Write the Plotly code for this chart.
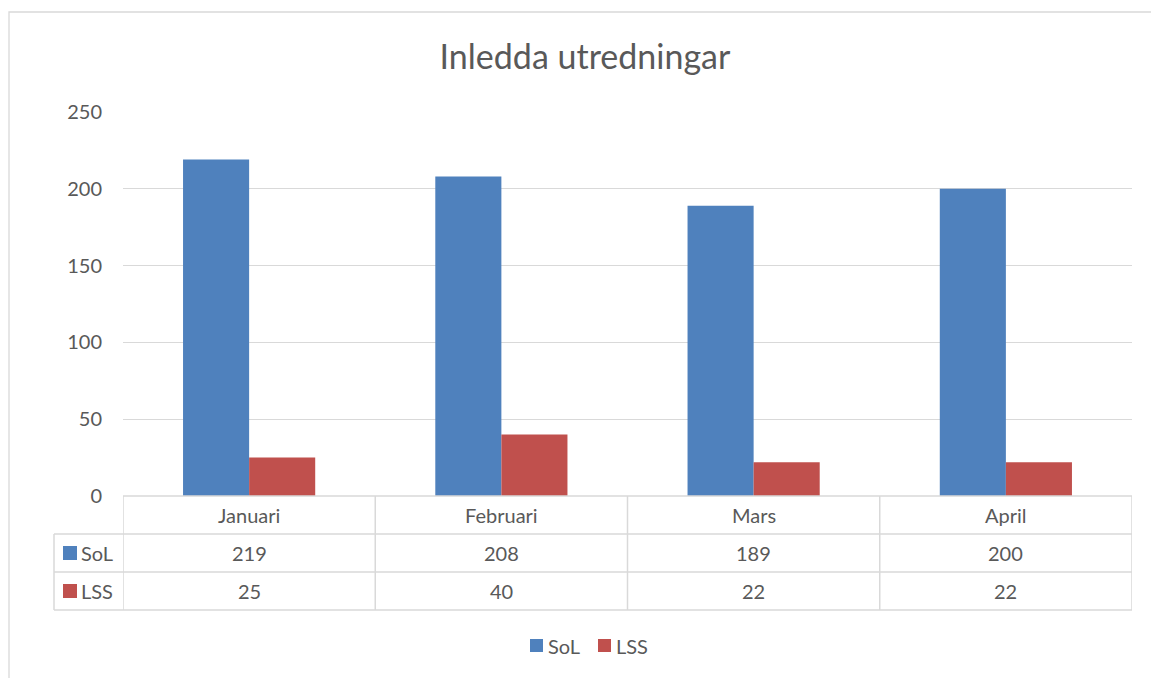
import plotly.graph_objects as go

categories = ["Januari", "Februari", "Mars", "April"]
sol = [219, 208, 189, 200]
lss = [25, 40, 22, 22]
series_names = ["SoL", "LSS"]
colors = ["#4F81BD", "#C0504D"]
title = "Inledda utredningar"

W, H = 1151, 678
L, R, T, B = 123, 1132, 112, 496
pw, ph = R - L, B - T

def px_x(px):
    return (px - L) / pw

def px_y(py):
    return (B - py) / ph

FONT = "Lato, 'Open Sans', sans-serif"
TXT = "#595959"
GRID = "#D9D9D9"
TS = 20

fig = go.Figure()
for name, vals, col in zip(series_names, [sol, lss], colors):
    fig.add_trace(go.Bar(x=categories, y=vals, name=name, showlegend=False,
                         marker=dict(color=col, line=dict(width=0))))

shapes = []
annotations = []
# outer chart border
shapes.append(dict(type="rect", xref="paper", yref="paper", x0=px_x(9), x1=px_x(1160),
                   y0=px_y(690), y1=px_y(12), line=dict(color=GRID, width=1.3), layer="below"))
# table rows
row_edges = [496, 534, 572, 610]
for i, py in enumerate(row_edges):
    x0 = L if i == 0 else 54
    shapes.append(dict(type="line", xref="paper", yref="paper", x0=px_x(x0), x1=px_x(R),
                       y0=px_y(py), y1=px_y(py), line=dict(color=GRID, width=1.5)))
# vertical lines
for k in range(len(categories) + 1):
    shapes.append(dict(type="line", xref="x", yref="paper", x0=k - 0.5, x1=k - 0.5,
                       y0=px_y(496), y1=px_y(610), line=dict(color=GRID, width=1.5)))
shapes.append(dict(type="line", xref="paper", yref="paper", x0=px_x(54), x1=px_x(54),
                   y0=px_y(534), y1=px_y(610), line=dict(color=GRID, width=1.5)))

# category labels in table
for k, c in enumerate(categories):
    annotations.append(dict(x=k, y=px_y(515), xref="x", yref="paper", text=c, showarrow=False,
                            font=dict(size=TS, color=TXT, family=FONT), xanchor="center", yanchor="middle"))
# values
for r, (name, vals, col) in enumerate(zip(series_names, [sol, lss], colors)):
    cy = 553 + 38 * r
    for k, v in enumerate(vals):
        annotations.append(dict(x=k, y=px_y(cy), xref="x", yref="paper", text=str(v), showarrow=False,
                                font=dict(size=TS, color=TXT, family=FONT), xanchor="center", yanchor="middle"))
    shapes.append(dict(type="rect", xref="paper", yref="paper", x0=px_x(63), x1=px_x(77),
                       y0=px_y(cy + 7), y1=px_y(cy - 7), line=dict(width=0), fillcolor=col))
    annotations.append(dict(x=px_x(79), y=px_y(cy), xref="paper", yref="paper", text=name, showarrow=False,
                            font=dict(size=TS, color=TXT, family=FONT), xanchor="left", yanchor="middle"))

# bottom legend (custom)
leg_x = [530, 598]
for name, col, lx in zip(series_names, colors, leg_x):
    shapes.append(dict(type="rect", xref="paper", yref="paper", x0=px_x(lx), x1=px_x(lx + 13),
                       y0=px_y(652), y1=px_y(639), line=dict(width=0), fillcolor=col))
    annotations.append(dict(x=px_x(lx + 16), y=px_y(646), xref="paper", yref="paper", text=name,
                            showarrow=False, font=dict(size=TS, color=TXT, family=FONT),
                            xanchor="left", yanchor="middle"))

fig.update_layout(
    width=W, height=H,
    margin=dict(l=L, r=W - R, t=T, b=H - B),
    paper_bgcolor="white", plot_bgcolor="white",
    barmode="group", bargap=0.476, bargroupgap=0,
    showlegend=False,
    title=dict(text=title, x=585 / W, xref="container", xanchor="center",
               y=1 - 57 / H, yref="container", yanchor="middle",
               font=dict(size=34, color=TXT, family=FONT)),
    xaxis=dict(showticklabels=False, showgrid=False, zeroline=False, showline=False,
               range=[-0.5, len(categories) - 0.5]),
    yaxis=dict(range=[0, 250], dtick=50, showgrid=True, gridcolor=GRID, gridwidth=1.3,
               zeroline=False, showline=False, ticks="", ticklabelstandoff=20,
               tickfont=dict(size=20, color=TXT, family=FONT)),
    shapes=shapes,
    annotations=annotations,
)

fig.write_html("out.html", config={"displayModeBar": False},
               post_script="document.body.style.margin='0';document.body.style.overflow='hidden';")
